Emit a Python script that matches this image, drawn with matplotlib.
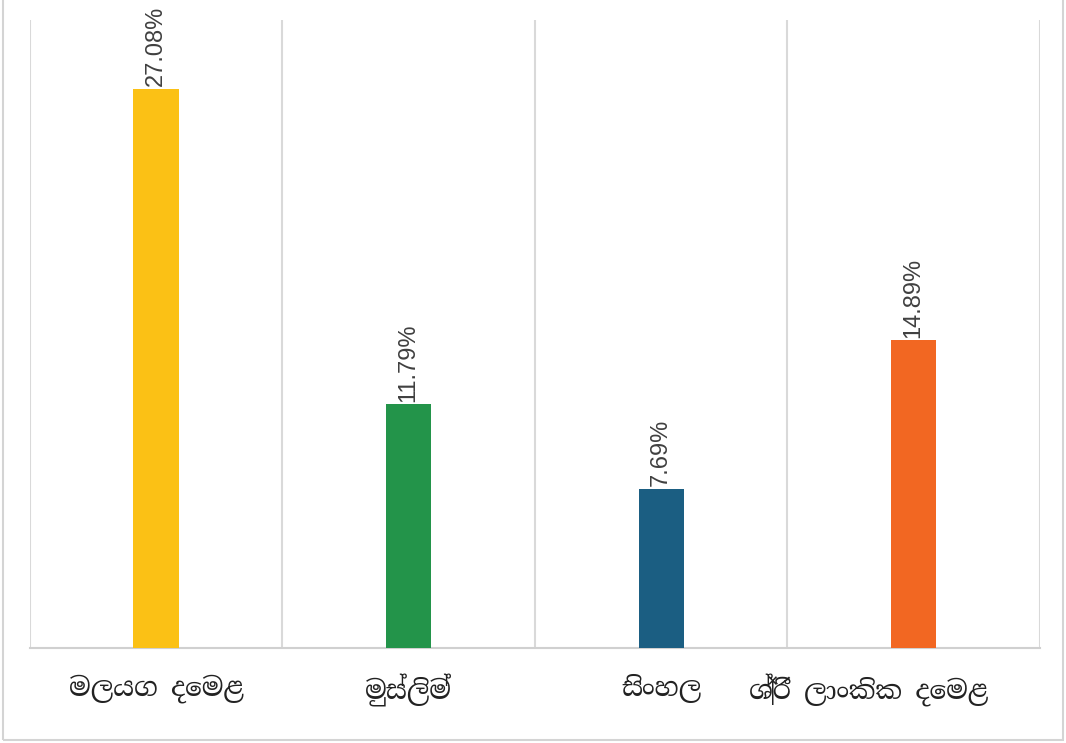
import matplotlib
matplotlib.use('Agg')
import matplotlib.pyplot as plt
import matplotlib.transforms as mtransforms
from matplotlib.patches import Rectangle

# දත්ත
categories = ['මලයග දෙමළ', 'මුස්ලිම්', 'සිංහල', 'ශ්‍රී ලාංකික දෙමළ']
values = [27.08, 11.79, 7.69, 14.89]
colors = ['#FBC115', '#23944A', '#1B5E82', '#F26722']

fig = plt.figure(figsize=(10.66, 7.43), dpi=100)

# outer frame around the whole picture
fig.patches.append(Rectangle((0.003, 0.004), 0.994, 1.2, transform=fig.transFigure,
                             fill=False, edgecolor='#d4d4d4', linewidth=1.5))

ax = fig.add_axes([0.0281, 0.1279, 0.9475, 0.8452])
x = list(range(len(values)))
bars = ax.bar(x, values, width=0.18, color=colors, zorder=3)
ax.set_ylim(0, 30.4)
ax.set_xlim(-0.5, len(values) - 0.5)

# category separators
for b in [i - 0.5 for i in range(len(values) + 1)]:
    ax.axvline(b, color='#d9d9d9', linewidth=1.5, zorder=1)

for s in ['top', 'left', 'right']:
    ax.spines[s].set_visible(False)
ax.spines['bottom'].set_color('#d0d0d0')
ax.spines['bottom'].set_linewidth(1.5)
ax.set_yticks([])
ax.tick_params(axis='x', length=0, pad=19)
ax.set_xticks(x)
ax.set_xticklabels(categories, fontsize=19, color='#222222',
                   family=['Noto Serif Sinhala', 'DejaVu Sans'])

# last label sits a bit left of its bar in the original
last = ax.get_xticklabels()[-1]
last.set_transform(last.get_transform() +
                   mtransforms.ScaledTranslation(-0.45, 0, fig.dpi_scale_trans))

for rect, v in zip(bars, values):
    ax.annotate(f'{v:.2f}%', (rect.get_x() + rect.get_width() / 2, v),
                xytext=(0, 2), textcoords='offset points',
                ha='center', va='bottom', rotation=90,
                fontsize=17, color='#404040', family='Liberation Sans')

fig.savefig('out.png')
